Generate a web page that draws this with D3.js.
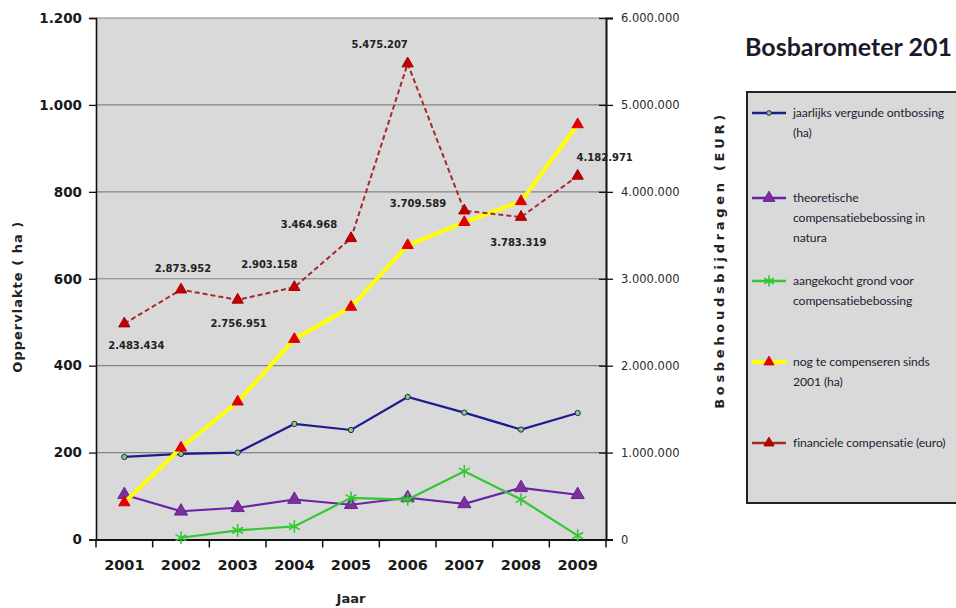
<!DOCTYPE html>
<html>
<head>
<meta charset="utf-8">
<script src="https://cdn.jsdelivr.net/npm/d3@7"></script>
<style>
  body { margin: 0; background: #fff; }
  svg { display: block; }
</style>
</head>
<body>
<div id="chart"></div>
<script>
// jaren en reeksen
const jaren = ["2001", "2002", "2003", "2004", "2005", "2006", "2007", "2008", "2009"];
const ontbossing = [190, 197, 200, 266, 252, 328, 292, 253, 291];
const compNatura = [103, 65, 73, 92, 80, 96, 82, 119, 103];
const aangekocht = [null, 4, 21, 30, 96, 92, 157, 92, 9];
const nogTeCompenseren = [85, 211, 317, 461, 535, 677, 730, 778, 955];
const financieel = [2483434, 2873952, 2756951, 2903158, 3464968, 5475207, 3783319, 3709589, 4182971];
const linksTicks = [0, 200, 400, 600, 800, 1000, 1200];
const rechtsTicks = [0, 1000000, 2000000, 3000000, 4000000, 5000000, 6000000];

// plaats van de datalabels t.o.v. het punt (px)
const labelDx = [12, 2, 1, -25, -42, -28, 54, -103, 27];
const labelDy = [22, -21, 24, -23, -14, -19, 32, -14, -18];

const W = 956, H = 608;
const plot = { left: 96, right: 606, top: 18, bottom: 539.5 };

const nl = d3.formatLocale({ decimal: ",", thousands: ".", grouping: [3], currency: ["€", ""] });
const fmt = nl.format(",");

const svg = d3.select("#chart").append("svg")
  .attr("width", W).attr("height", H);

const x = d3.scaleBand().domain(jaren).range([plot.left, plot.right]).padding(0);
const y = d3.scaleLinear().domain([0, 1200]).range([plot.bottom, plot.top]);
const yR = d3.scaleLinear().domain([0, 6000000]).range([plot.bottom, plot.top]);
const cx = d => x(d) + x.bandwidth() / 2;

// achtergrond plotgebied
svg.append("rect")
  .attr("x", plot.left).attr("y", plot.top)
  .attr("width", plot.right - plot.left).attr("height", plot.bottom - plot.top)
  .attr("fill", "#d9d9d9");

// rasterlijnen
svg.append("g").selectAll("line")
  .data(linksTicks.filter(d => d > 0))
  .join("line")
  .attr("x1", plot.left).attr("x2", plot.right)
  .attr("y1", d => y(d)).attr("y2", d => y(d))
  .attr("stroke", "#858585").attr("stroke-width", 1.2);

// linkeras
const axL = svg.append("g")
  .attr("transform", `translate(${plot.left},0)`)
  .call(d3.axisLeft(y).tickValues(linksTicks).tickFormat(fmt).tickSize(7).tickPadding(7));
axL.select(".domain").attr("stroke", "#111").attr("stroke-width", 1.6);
axL.selectAll(".tick line").attr("stroke", "#111").attr("stroke-width", 1.3);
axL.selectAll("text")
  .attr("font-family", "DejaVu Sans").attr("font-weight", "bold")
  .attr("font-size", 13.5).attr("fill", "#1a1a1a");

// rechteras
const axR = svg.append("g")
  .attr("transform", `translate(${plot.right},0)`)
  .call(d3.axisRight(yR).tickValues(rechtsTicks).tickFormat(fmt).tickSize(7).tickPadding(8));
axR.select(".domain").attr("stroke", "#111").attr("stroke-width", 2);
axR.selectAll(".tick line").attr("stroke", "#111").attr("stroke-width", 1.3);
axR.selectAll("text")
  .attr("font-family", "DejaVu Sans").attr("font-size", 11.5).attr("fill", "#2a2a2a");
svg.append("g")
  .attr("transform", `translate(${plot.right},0)`)
  .call(d3.axisRight(yR).tickValues(rechtsTicks).tickFormat("").tickSize(-7))
  .call(g => g.select(".domain").remove())
  .selectAll("line").attr("stroke", "#111").attr("stroke-width", 1.3);

// onderas
const axB = svg.append("g")
  .attr("transform", `translate(0,${plot.bottom})`)
  .call(d3.axisBottom(x).tickSize(0).tickPadding(20));
axB.select(".domain").attr("stroke", "#111").attr("stroke-width", 2);
axB.selectAll("text")
  .attr("font-family", "DejaVu Sans").attr("font-weight", "bold")
  .attr("font-size", 14.5).attr("fill", "#1a1a1a");
// streepjes tussen de jaren
const grenzen = jaren.map(d => x(d)).concat([x(jaren[jaren.length - 1]) + x.bandwidth()]);
svg.append("g").selectAll("line")
  .data(grenzen)
  .join("line")
  .attr("x1", d => d).attr("x2", d => d)
  .attr("y1", plot.bottom).attr("y2", plot.bottom + 8)
  .attr("stroke", "#111").attr("stroke-width", 1.5);

// astitels
svg.append("text")
  .attr("transform", `translate(22,${(plot.top + plot.bottom) / 2 + 18}) rotate(-90)`)
  .attr("text-anchor", "middle")
  .attr("font-family", "DejaVu Sans").attr("font-weight", "bold").attr("font-size", 13)
  .attr("letter-spacing", 1).attr("fill", "#222")
  .text("Oppervlakte ( ha )");
svg.append("text")
  .attr("transform", `translate(724,260) rotate(-90)`)
  .attr("text-anchor", "middle")
  .attr("font-family", "DejaVu Sans").attr("font-weight", "bold").attr("font-size", 13)
  .attr("letter-spacing", 3.7).attr("fill", "#222")
  .text("Bosbehoudsbijdragen (EUR)");
svg.append("text")
  .attr("x", (plot.left + plot.right) / 2).attr("y", 603)
  .attr("text-anchor", "middle")
  .attr("font-family", "DejaVu Sans").attr("font-weight", "bold").attr("font-size", 13)
  .attr("fill", "#222")
  .text("Jaar");

// titel
svg.append("text")
  .attr("x", 745).attr("y", 56)
  .attr("font-family", "Lato").attr("font-weight", "bold").attr("font-size", 25)
  .attr("fill", "#1a1a2a")
  .text("Bosbarometer 201");

// symbolen
const tri = d3.symbol().type(d3.symbolTriangle);
const ster = d3.symbol().type(d3.symbolAsterisk);
const cirkel = d3.symbol().type(d3.symbolCircle);

const reeksen = [
  { naam: "ontbossing", data: ontbossing, schaal: y, kleur: "#1c1c8e", breedte: 2.2, dash: null,
    symbool: cirkel, grootte: 22, fill: "#8fd14f", rand: "#1c1c8e" },
  { naam: "natura", data: compNatura, schaal: y, kleur: "#6a22a8", breedte: 2.2, dash: null,
    symbool: tri, grootte: 75, fill: "#7f3095", rand: "#6020a8" },
  { naam: "aangekocht", data: aangekocht, schaal: y, kleur: "#33c833", breedte: 2.2, dash: null,
    symbool: ster, grootte: 110, fill: "none", rand: "#33c833" },
  { naam: "nog", data: nogTeCompenseren, schaal: y, kleur: "#ffff00", breedte: 4, dash: null,
    symbool: tri, grootte: 55, fill: "#e00000", rand: "#e00000" },
  { naam: "financieel", data: financieel, schaal: yR, kleur: "#a52a2a", breedte: 2, dash: "5,3",
    symbool: tri, grootte: 55, fill: "#c00000", rand: "#a00000" }
];

reeksen.forEach(r => {
  const pts = jaren.map((j, i) => ({ j, v: r.data[i] })).filter(p => p.v != null);
  const lijn = d3.line().x(p => cx(p.j)).y(p => r.schaal(p.v));
  svg.append("path")
    .datum(pts)
    .attr("d", lijn)
    .attr("fill", "none")
    .attr("stroke", r.kleur)
    .attr("stroke-width", r.breedte)
    .attr("stroke-dasharray", r.dash);
  svg.append("g").selectAll("path")
    .data(pts)
    .join("path")
    .attr("d", r.symbool.size(r.grootte)())
    .attr("transform", p => `translate(${cx(p.j)},${r.schaal(p.v)})`)
    .attr("fill", r.fill)
    .attr("stroke", r.rand)
    .attr("stroke-width", r.symbool === ster ? 1.6 : 1);
});

// datalabels financiele compensatie
svg.append("g").selectAll("text")
  .data(jaren)
  .join("text")
  .attr("x", (j, i) => cx(j) + labelDx[i])
  .attr("y", (j, i) => yR(financieel[i]) + labelDy[i])
  .attr("dy", "0.35em")
  .attr("text-anchor", "middle")
  .attr("font-family", "DejaVu Sans").attr("font-weight", "bold").attr("font-size", 10)
  .attr("fill", "#222")
  .text((j, i) => fmt(financieel[i]));

// legende
const legItems = [
  { regels: ["jaarlijks vergunde ontbossing", "(ha)"], r: reeksen[0] },
  { regels: ["theoretische", "compensatiebebossing in", "natura"], r: reeksen[1] },
  { regels: ["aangekocht grond voor", "compensatiebebossing"], r: reeksen[2] },
  { regels: ["nog te compenseren sinds", "2001 (ha)"], r: reeksen[3] },
  { regels: ["financiele compensatie (euro)"], r: reeksen[4] }
];
const legY = [113, 198, 281, 362, 443];

svg.append("rect")
  .attr("x", 747).attr("y", 92).attr("width", 220).attr("height", 411)
  .attr("fill", "#d9d9d9").attr("stroke", "#222").attr("stroke-width", 2);

const leg = svg.append("g").selectAll("g")
  .data(legItems)
  .join("g")
  .attr("transform", (d, i) => `translate(0,${legY[i]})`);
leg.append("line")
  .attr("x1", 752).attr("x2", 786)
  .attr("stroke", d => d.r.kleur)
  .attr("stroke-width", d => d.r.naam === "nog" ? 4 : 2.6);
leg.append("path")
  .attr("d", d => d.r.symbool.size(d.r.grootte * 0.8)())
  .attr("transform", "translate(769,0)")
  .attr("fill", d => d.r.fill)
  .attr("stroke", d => d.r.rand)
  .attr("stroke-width", d => d.r.symbool === ster ? 1.6 : 1);
leg.each(function(d) {
  d3.select(this).selectAll("text")
    .data(d.regels)
    .join("text")
    .attr("x", 793)
    .attr("y", (t, k) => k * 19.7)
    .attr("dy", "0.35em")
    .attr("font-family", "Lato").attr("font-size", 12.2)
    .attr("letter-spacing", -0.1)
    .attr("fill", "#222233")
    .text(t => t);
});
</script>
</body>
</html>
